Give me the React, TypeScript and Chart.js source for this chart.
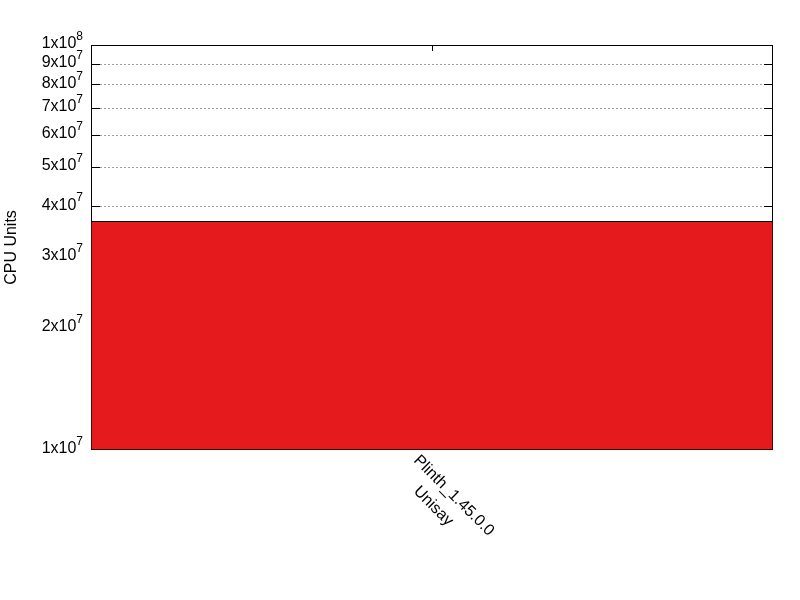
import { useEffect, useRef } from 'react';
import { Chart, registerables } from 'chart.js';
import type { Plugin } from 'chart.js';

Chart.register(...registerables);

// one build, one bar
const categories: string[][] = [['Plinth_1.45.0.0', 'Unisay']];
const cpuUnits: number[] = [3.67e7];

// log ticks, shown as mantissa x 10^exponent
const tickMantissas: number[] = [1, 2, 3, 4, 5, 6, 7, 8, 9, 1];
const tickExponents: number[] = [7, 7, 7, 7, 7, 7, 7, 7, 7, 8];

const FONT = '"Liberation Sans", Arial, sans-serif';
const BAR_RED = '#e41a1c';

const gnuplotFrame: Plugin<'bar'> = {
  id: 'gnuplotFrame',
  beforeDatasetsDraw(chart) {
    const { ctx, chartArea } = chart;
    const y = chart.scales.y;
    const x = chart.scales.x;
    const left = chartArea.left;
    const right = chartArea.right;
    const top = chartArea.top;
    const bottom = chartArea.bottom;
    const rowOf = (v: number) =>
      Math.min(Math.max(Math.round(y.getPixelForValue(v)) + 0.5, top + 0.5), bottom - 0.5);

    ctx.save();
    ctx.lineWidth = 1;

    // dashed grid
    ctx.strokeStyle = '#a0a0a0';
    ctx.setLineDash([2, 2]);
    tickMantissas.forEach((m, i) => {
      const v = m * Math.pow(10, tickExponents[i]);
      if (v <= y.min || v >= y.max) return;
      const py = rowOf(v);
      ctx.beginPath();
      ctx.moveTo(left + 1, py);
      ctx.lineTo(right - 1, py);
      ctx.stroke();
    });
    ctx.setLineDash([]);

    // frame
    ctx.strokeStyle = '#000';
    ctx.strokeRect(left + 0.5, top + 0.5, right - left - 1, bottom - top - 1);

    // inner ticks on both sides
    tickMantissas.forEach((m, i) => {
      const v = m * Math.pow(10, tickExponents[i]);
      const py = rowOf(v);
      ctx.beginPath();
      ctx.moveTo(left, py);
      ctx.lineTo(left + 9, py);
      ctx.moveTo(right - 9, py);
      ctx.lineTo(right, py);
      ctx.stroke();
    });

    // x ticks at top
    categories.forEach((_, i) => {
      const px = Math.round(x.getPixelForValue(i)) + 0.5;
      ctx.beginPath();
      ctx.moveTo(px, top);
      ctx.lineTo(px, top + 6);
      ctx.stroke();
    });
    ctx.restore();
  },
  afterDraw(chart) {
    const { ctx, chartArea } = chart;
    const y = chart.scales.y;
    const x = chart.scales.x;

    ctx.save();
    ctx.fillStyle = '#000';
    ctx.textBaseline = 'middle';
    ctx.textAlign = 'left';

    // y tick labels with superscript exponents
    const labelRight = chartArea.left - 8;
    tickMantissas.forEach((m, i) => {
      const v = m * Math.pow(10, tickExponents[i]);
      const py = y.getPixelForValue(v);
      const base = `${m}x10`;
      const sup = `${tickExponents[i]}`;
      ctx.font = `16px ${FONT}`;
      const wBase = ctx.measureText(base).width;
      ctx.font = `12px ${FONT}`;
      const wSup = ctx.measureText(sup).width;
      const startX = labelRight - wBase - wSup;
      ctx.font = `16px ${FONT}`;
      ctx.fillText(base, startX, py - 1);
      ctx.font = `12px ${FONT}`;
      ctx.fillText(sup, startX + wBase, py - 8);
    });

    // y axis title
    ctx.font = `16px ${FONT}`;
    ctx.textAlign = 'center';
    ctx.translate(12, (chartArea.top + chartArea.bottom) / 2);
    ctx.rotate(-Math.PI / 2);
    ctx.fillText('CPU Units', 0, 0);
    ctx.setTransform(1, 0, 0, 1, 0, 0);

    // rotated category labels
    ctx.textAlign = 'left';
    categories.forEach((lines, i) => {
      const px = x.getPixelForValue(i) - 16;
      lines.forEach((line, j) => {
        ctx.save();
        ctx.translate(px, chartArea.bottom + 8 + j * 31);
        ctx.rotate(Math.PI / 4);
        ctx.fillText(line, 0, 0);
        ctx.restore();
      });
    });
    ctx.restore();
  },
};

export default function App() {
  const canvasRef = useRef<HTMLCanvasElement | null>(null);
  const chartRef = useRef<Chart<'bar'> | null>(null);

  useEffect(() => {
    document.body.style.margin = '0';
    if (!canvasRef.current) return;

    chartRef.current?.destroy();
    chartRef.current = new Chart(canvasRef.current, {
      type: 'bar',
      data: {
        labels: categories.map((c) => c.join(' ')),
        datasets: [
          {
            data: cpuUnits,
            backgroundColor: BAR_RED,
            borderColor: '#000000',
            borderWidth: 1,
            borderSkipped: false,
            categoryPercentage: 1,
            barPercentage: 1,
          },
        ],
      },
      options: {
        responsive: false,
        animation: false,
        devicePixelRatio: 1,
        events: [],
        layout: {
          padding: { left: 91, top: 45, right: 27, bottom: 150 },
        },
        plugins: {
          legend: { display: false },
          tooltip: { enabled: false },
        },
        scales: {
          x: {
            type: 'category',
            grid: { display: false },
            border: { display: false },
            ticks: { display: false },
            afterFit(scale) {
              scale.height = 0;
            },
          },
          y: {
            type: 'logarithmic',
            min: 1e7,
            max: 1e8,
            grid: { display: false },
            border: { display: false },
            ticks: { display: false },
            afterFit(scale) {
              scale.width = 0;
            },
          },
        },
      },
      plugins: [gnuplotFrame],
    });

    return () => {
      chartRef.current?.destroy();
      chartRef.current = null;
    };
  }, []);

  return (
    <div style={{ width: 800, height: 600, background: '#fff' }}>
      <canvas ref={canvasRef} width={800} height={600} aria-label="CPU units per build" role="img" />
    </div>
  );
}
